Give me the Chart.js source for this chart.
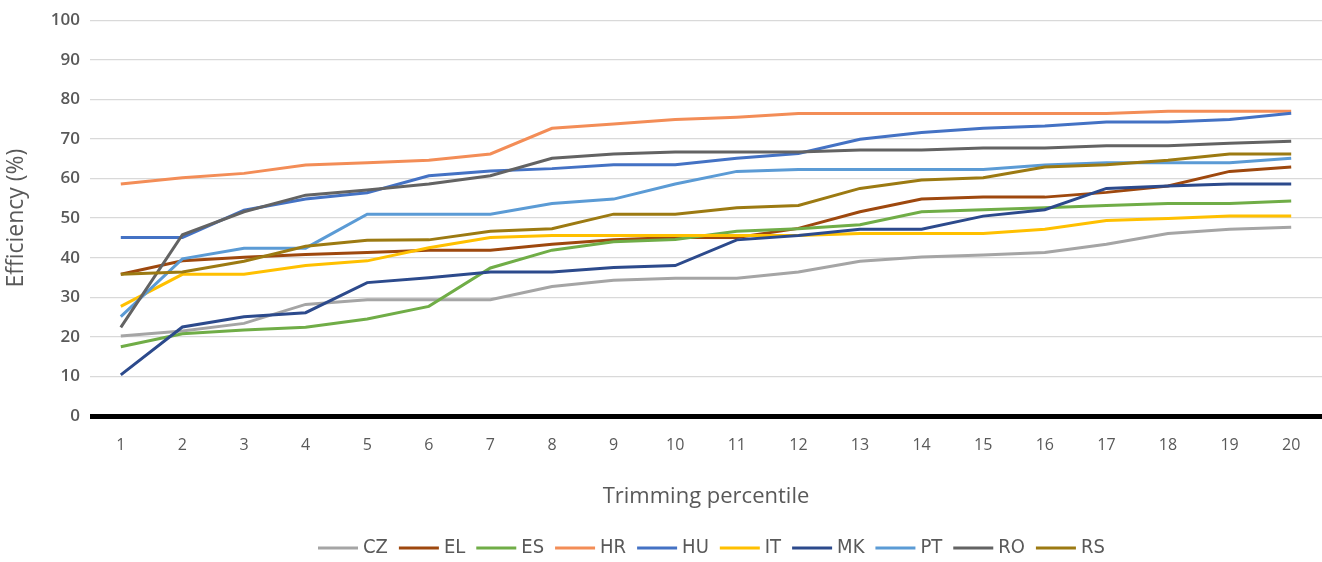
<!DOCTYPE html>
<html>
<head>
<meta charset="utf-8">
<script src="https://cdn.jsdelivr.net/npm/chart.js@4/dist/chart.umd.min.js"></script>
<style>
  html, body { margin: 0; padding: 0; background: #ffffff; }
  #wrap { width: 1322px; height: 562px; }
</style>
</head>
<body>
<div id="wrap"><canvas id="chart" width="1322" height="562"></canvas></div>
<script>
// Trimming percentiles on the x axis
const percentiles = ['1','2','3','4','5','6','7','8','9','10','11','12','13','14','15','16','17','18','19','20'];

// Efficiency (%) per country
const CZ = [20.2,21.5,23.4,28.2,29.4,29.4,29.4,32.7,34.3,34.8,34.8,36.4,39.1,40.2,40.7,41.3,43.4,46.1,47.2,47.7];
const EL = [35.8,39.2,40.1,40.8,41.3,41.9,41.9,43.4,44.5,45.1,45.1,47.4,51.6,54.8,55.3,55.3,56.5,58.1,61.8,62.9];
const ES = [17.5,20.8,21.7,22.4,24.5,27.7,37.4,41.9,44.0,44.6,46.7,47.3,48.3,51.6,52.1,52.6,53.2,53.7,53.7,54.3];
const HR = [58.6,60.2,61.3,63.4,64.0,64.6,66.2,72.7,73.8,74.9,75.5,76.4,76.4,76.4,76.4,76.4,76.4,77.0,77.0,77.0];
const HU = [45.1,45.1,52.0,54.8,56.4,60.7,61.9,62.5,63.5,63.5,65.1,66.3,69.9,71.6,72.7,73.3,74.3,74.3,74.9,76.5];
const IT = [27.7,35.8,35.8,38.0,39.2,42.5,45.1,45.6,45.6,45.6,45.6,45.6,46.1,46.1,46.1,47.2,49.4,49.9,50.5,50.5];
const MK = [10.4,22.5,25.1,26.1,33.7,34.9,36.4,36.4,37.5,38.0,44.5,45.6,47.2,47.2,50.5,52.1,57.5,58.1,58.6,58.6];
const PT = [25.1,39.7,42.4,42.4,51.0,51.0,51.0,53.7,54.8,58.6,61.8,62.3,62.3,62.3,62.3,63.4,64.0,64.0,64.0,65.1];
const RO = [22.4,45.8,51.6,55.8,57.1,58.6,60.7,65.1,66.2,66.7,66.7,66.7,67.2,67.2,67.7,67.7,68.3,68.3,68.9,69.4];
const RS = [35.8,36.4,39.1,42.9,44.4,44.5,46.7,47.3,51.0,51.0,52.6,53.2,57.5,59.6,60.2,62.9,63.5,64.6,66.2,66.2];

// Value axis ticks
const yTicks = [0,10,20,30,40,50,60,70,80,90,100];

const series = [
  { label: 'CZ', data: CZ, color: '#A5A5A5' },
  { label: 'EL', data: EL, color: '#9E480E' },
  { label: 'ES', data: ES, color: '#70AD47' },
  { label: 'HR', data: HR, color: '#F38D57' },
  { label: 'HU', data: HU, color: '#4472C4' },
  { label: 'IT', data: IT, color: '#FFC000' },
  { label: 'MK', data: MK, color: '#2C4A8C' },
  { label: 'PT', data: PT, color: '#5B9BD5' },
  { label: 'RO', data: RO, color: '#636363' },
  { label: 'RS', data: RS, color: '#9C7A12' }
];

const textGray = '#595959';

// Legend drawn below the axis title: short line sample followed by the name
const bottomLegend = {
  id: 'bottomLegend',
  afterDraw(chart) {
    const ctx = chart.ctx;
    const y = 548;
    const sample = 40, gapText = 5, gapItem = 11;
    ctx.save();
    ctx.font = '20px "Liberation Sans Narrow", "DejaVu Sans Condensed", "Roboto", sans-serif';
    ctx.textBaseline = 'middle';
    let x = 318;
    chart.data.datasets.forEach(ds => {
      const w = ctx.measureText(ds.label).width;
      ctx.strokeStyle = ds.borderColor;
      ctx.lineWidth = 3;
      ctx.beginPath();
      ctx.moveTo(x, y);
      ctx.lineTo(x + sample, y);
      ctx.stroke();
      ctx.fillStyle = textGray;
      ctx.fillText(ds.label, x + sample + gapText, y);
      x += sample + gapText + w + gapItem;
    });
    ctx.restore();
  }
};

new Chart(document.getElementById('chart'), {
  type: 'line',
  data: {
    labels: percentiles,
    datasets: series.map((s, i) => ({
      label: s.label,
      data: s.data,
      borderColor: s.color,
      backgroundColor: s.color,
      borderWidth: 3,
      pointRadius: 0,
      pointHoverRadius: 0,
      tension: 0,
      fill: false,
      order: series.length - 1 - i
    }))
  },
  options: {
    responsive: false,
    animation: false,
    devicePixelRatio: 1,
    layout: { padding: { top: 17, right: 0, bottom: 46, left: 0 } },
    plugins: {
      legend: { display: false },
      tooltip: { enabled: false }
    },
    scales: {
      x: {
        type: 'category',
        offset: true,
        grid: { display: false, drawTicks: false },
        border: { display: false },
        ticks: {
          color: textGray,
          font: { family: '"Open Sans", sans-serif', size: 16 },
          padding: 20,
          maxRotation: 0,
          autoSkip: false
        },
        title: {
          display: true,
          text: 'Trimming percentile',
          color: textGray,
          font: { family: '"Open Sans", sans-serif', size: 22 },
          padding: { top: 0, bottom: 6 }
        },
        afterFit(scale) { scale.height = 100; }
      },
      y: {
        min: 0,
        max: 100,
        afterBuildTicks(scale) { scale.ticks = yTicks.map(v => ({ value: v })); },
        grid: {
          drawTicks: false,
          color: ctx => (ctx.tick && ctx.tick.value === 0) ? '#000000' : '#D9D9D9',
          lineWidth: ctx => (ctx.tick && ctx.tick.value === 0) ? 5 : 1.3
        },
        border: { display: false },
        ticks: {
          color: textGray,
          font: { family: '"Open Sans", sans-serif', size: 17, weight: '600' },
          padding: 10
        },
        title: {
          display: true,
          text: 'Efficiency (%)',
          color: textGray,
          font: { family: '"Open Sans", sans-serif', size: 23 },
          padding: { top: 3, bottom: 0 }
        },
        afterFit(scale) { scale.width = 90; }
      }
    }
  },
  plugins: [bottomLegend]
});
</script>
</body>
</html>
